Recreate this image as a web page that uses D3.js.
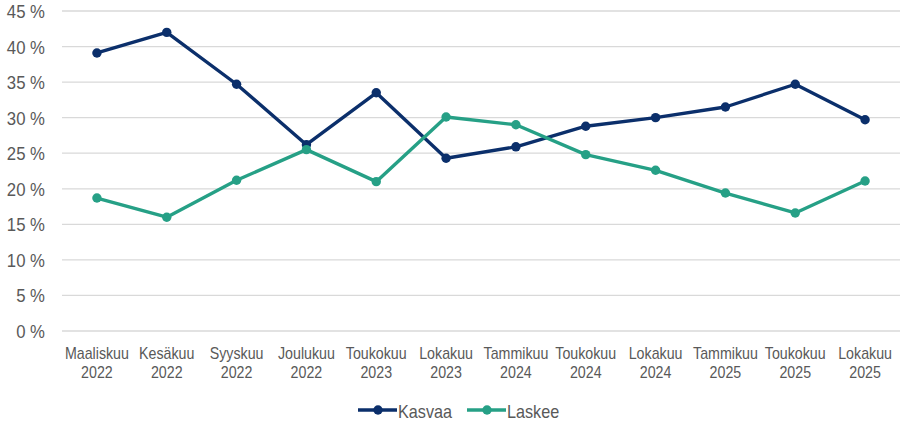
<!DOCTYPE html>
<html>
<head>
<meta charset="utf-8">
<script src="https://cdn.jsdelivr.net/npm/d3@7"></script>
<style>
  body { margin: 0; background: #fff; }
  text { font-family: "Liberation Sans", Arial, sans-serif; fill: #595959; }
</style>
</head>
<body>
<div id="chart"></div>
<script>
// kategoriat (kuukausi, vuosi)
const months = ['Maaliskuu', 'Kesäkuu', 'Syyskuu', 'Joulukuu', 'Toukokuu', 'Lokakuu', 'Tammikuu', 'Toukokuu', 'Lokakuu', 'Tammikuu', 'Toukokuu', 'Lokakuu'];
const years = ['2022', '2022', '2022', '2022', '2023', '2023', '2024', '2024', '2024', '2025', '2025', '2025'];

// sarjat, %
const kasvaa = [39.1, 42.0, 34.7, 26.2, 33.5, 24.3, 25.9, 28.8, 30.0, 31.5, 34.7, 29.7];
const laskee = [18.7, 16.0, 21.2, 25.5, 21.0, 30.1, 29.0, 24.8, 22.6, 19.4, 16.6, 21.1];

const yTicks = [0, 5, 10, 15, 20, 25, 30, 35, 40, 45];

const series = [
  { name: 'Kasvaa', values: kasvaa, color: '#0b2f6b' },
  { name: 'Laskee', values: laskee, color: '#26a086' },
];

const width = 903, height = 422;
const margin = { left: 62, right: 3, top: 11, bottom: 91 };

const svg = d3.select('#chart').append('svg')
  .attr('width', width)
  .attr('height', height);

const idx = months.map((_, i) => i);

const x = d3.scaleBand()
  .domain(idx)
  .range([margin.left, width - margin.right]);

const y = d3.scaleLinear()
  .domain([0, 45])
  .range([height - margin.bottom, margin.top]);

// ruudukko
svg.append('g')
  .selectAll('line')
  .data(yTicks).enter()
  .append('line')
  .attr('x1', margin.left)
  .attr('x2', width - margin.right)
  .attr('y1', d => y(d))
  .attr('y2', d => y(d))
  .attr('stroke', '#d9d9d9')
  .attr('stroke-width', 1.3);

// y-akseli (kapea fontti: venytetään vaakasuunnassa)
const yAxis = svg.append('g')
  .attr('transform', `translate(${margin.left - 17},0)`)
  .call(d3.axisLeft(y).tickValues(yTicks).tickFormat(d => `${d} %`).tickSize(0).tickPadding(0));
yAxis.select('.domain').remove();
yAxis.selectAll('text')
  .attr('x', 0)
  .attr('font-size', '18px')
  .attr('dy', '0.36em')
  .attr('transform', 'scale(0.93,1)')
  .style('font-family', '"Liberation Sans", Arial, sans-serif')
  .style('fill', '#595959');

// x-akseli
const xAxis = svg.append('g')
  .attr('transform', `translate(0,${height - margin.bottom})`)
  .call(d3.axisBottom(x).tickSize(0).tickFormat(''));
xAxis.select('.domain').remove();
xAxis.selectAll('.tick').each(function (d) {
  const t = d3.select(this).append('text')
    .attr('text-anchor', 'middle')
    .attr('font-size', '16px')
    .attr('transform', 'scale(0.89,1)')
    .style('font-family', '"Liberation Sans", Arial, sans-serif')
    .style('fill', '#595959');
  t.append('tspan').attr('x', 0).attr('y', 28.5).text(months[d]);
  t.append('tspan').attr('x', 0).attr('y', 47.5).text(years[d]);
});

const cx = i => x(i) + x.bandwidth() / 2;

const line = d3.line()
  .x((d, i) => cx(i))
  .y(d => y(d));

series.forEach(s => {
  svg.append('path')
    .datum(s.values)
    .attr('fill', 'none')
    .attr('stroke', s.color)
    .attr('stroke-width', 3.4)
    .attr('stroke-linejoin', 'round')
    .attr('d', line);

  svg.append('g')
    .selectAll('circle')
    .data(s.values).enter()
    .append('circle')
    .attr('cx', (d, i) => cx(i))
    .attr('cy', d => y(d))
    .attr('r', 4.7)
    .attr('fill', s.color);
});

// selite
const legendY = 410;
const legendX = [358, 467];
series.forEach((s, i) => {
  const g = svg.append('g').attr('transform', `translate(${legendX[i]},${legendY})`);
  g.append('line')
    .attr('x1', 0).attr('x2', 39)
    .attr('stroke', s.color)
    .attr('stroke-width', 3.4);
  g.append('circle')
    .attr('cx', 20).attr('r', 4.7)
    .attr('fill', s.color);
  g.append('g')
    .attr('transform', 'translate(40,8) scale(0.9,1)')
    .append('text')
    .attr('font-size', '18px')
    .text(s.name);
});
</script>
</body>
</html>
